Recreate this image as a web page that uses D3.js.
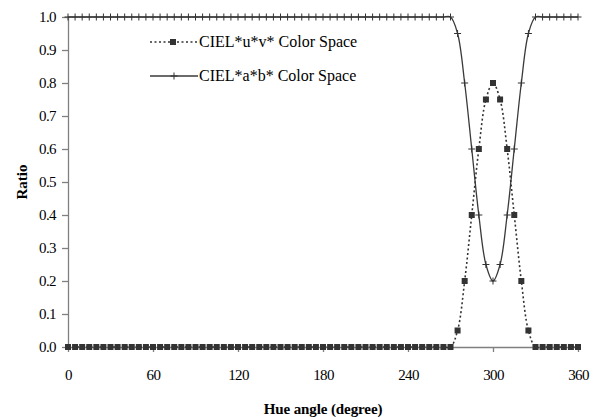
<!DOCTYPE html>
<html>
<head>
<meta charset="utf-8">
<script src="https://cdn.jsdelivr.net/npm/d3@7"></script>
<style>
body { margin: 0; background: #fff; }
svg text { font-family: "Liberation Serif", "Times New Roman", serif; fill: #000; }
.tick text { font-size: 15px; letter-spacing: -0.6px; }
.axis path, .axis line { stroke: #808080; stroke-width: 1.3px; }
</style>
</head>
<body>
<div id="chart"></div>
<script>
// hue angle (degree), one sample every 5 degrees
var hueAngles = [0,5,10,15,20,25,30,35,40,45,50,55,60,65,70,75,80,85,90,95,
	100,105,110,115,120,125,130,135,140,145,150,155,160,165,170,175,180,185,190,195,
	200,205,210,215,220,225,230,235,240,245,250,255,260,265,270,275,280,285,290,295,
	300,305,310,315,320,325,330,335,340,345,350,355,360];

var luvRatio = [0,0,0,0,0,0,0,0,0,0,0,0,0,0,0,0,0,0,0,0,
	0,0,0,0,0,0,0,0,0,0,0,0,0,0,0,0,0,0,0,0,
	0,0,0,0,0,0,0,0,0,0,0,0,0,0,0,0.05,0.2,0.4,0.6,0.75,
	0.8,0.75,0.6,0.4,0.2,0.05,0,0,0,0,0,0,0];

var labRatio = [1,1,1,1,1,1,1,1,1,1,1,1,1,1,1,1,1,1,1,1,
	1,1,1,1,1,1,1,1,1,1,1,1,1,1,1,1,1,1,1,1,
	1,1,1,1,1,1,1,1,1,1,1,1,1,1,1,0.95,0.8,0.6,0.4,0.25,
	0.2,0.25,0.4,0.6,0.8,0.95,1,1,1,1,1,1,1];

var xTicks = [0,60,120,180,240,300,360];
var yTicks = [0,0.1,0.2,0.3,0.4,0.5,0.6,0.7,0.8,0.9,1.0];
var seriesNames = ["CIEL*u*v* Color Space", "CIEL*a*b* Color Space"];

var width = 599, height = 417;
var svg = d3.select("#chart").append("svg")
	.attr("width", width)
	.attr("height", height);

var xScale = d3.scaleLinear().domain([0, 360]).range([68, 578]);
var yScale = d3.scaleLinear().domain([0, 1]).range([347, 17]);

//y axis
svg.append("g")
	.attr("class", "axis")
	.attr("transform", "translate(68,0)")
	.call(d3.axisLeft(yScale).tickValues(yTicks).tickFormat(d3.format(".1f")).tickSize(6).tickSizeOuter(0).tickPadding(6));

//x axis
svg.append("g")
	.attr("class", "axis")
	.attr("transform", "translate(0,347)")
	.call(d3.axisBottom(xScale).tickValues(xTicks).tickSize(5).tickSizeOuter(0).tickPadding(17));

var pts = hueAngles.map(function(h, i) { return {h: h, uv: luvRatio[i], ab: labRatio[i]}; });

// CIELuv - dotted line with squares
var uvLine = d3.line()
	.x(function(d) { return xScale(d.h); })
	.y(function(d) { return yScale(d.uv); })
	.curve(d3.curveCatmullRom);

svg.append("path")
	.datum(pts)
	.attr("d", uvLine)
	.attr("fill", "none")
	.attr("stroke", "#333")
	.attr("stroke-width", 1.6)
	.attr("stroke-dasharray", "2,2.5");

svg.selectAll("rect.uv").data(pts).enter().append("rect")
	.attr("class", "uv")
	.attr("x", function(d) { return xScale(d.h) - 3; })
	.attr("y", function(d) { return yScale(d.uv) - 3; })
	.attr("width", 6)
	.attr("height", 6)
	.attr("fill", "#333");

// CIELab - solid line with plus markers
var abLine = d3.line()
	.x(function(d) { return xScale(d.h); })
	.y(function(d) { return yScale(d.ab); })
	.curve(d3.curveCatmullRom);

svg.append("path")
	.datum(pts)
	.attr("d", abLine)
	.attr("fill", "none")
	.attr("stroke", "#3a3a3a")
	.attr("stroke-width", 1.3);

svg.selectAll("path.ab").data(pts).enter().append("path")
	.attr("class", "ab")
	.attr("d", function(d) {
		var x = xScale(d.h), y = yScale(d.ab);
		return "M" + (x - 3.5) + "," + y + "H" + (x + 3.5) + "M" + x + "," + (y - 3.5) + "V" + (y + 3.5);
	})
	.attr("stroke", "#333")
	.attr("stroke-width", 1);

// legend
var legend = svg.append("g");
legend.append("line")
	.attr("x1", 150).attr("x2", 198).attr("y1", 42).attr("y2", 42)
	.attr("stroke", "#333").attr("stroke-width", 1.6).attr("stroke-dasharray", "2,2.5");
legend.append("rect")
	.attr("x", 170).attr("y", 39).attr("width", 6).attr("height", 6).attr("fill", "#333");
legend.append("text")
	.attr("x", 199).attr("y", 47).attr("font-size", 16)
	.text(seriesNames[0]);

legend.append("line")
	.attr("x1", 150).attr("x2", 198).attr("y1", 76).attr("y2", 76)
	.attr("stroke", "#3a3a3a").attr("stroke-width", 1.3);
legend.append("path")
	.attr("d", "M170.5,76H177.5M174,72.5V79.5")
	.attr("stroke", "#333");
legend.append("text")
	.attr("x", 199).attr("y", 81).attr("font-size", 16)
	.text(seriesNames[1]);

// axis titles
svg.append("text")
	.attr("x", 323).attr("y", 414)
	.attr("text-anchor", "middle")
	.attr("font-size", 15).attr("font-weight", "bold").attr("letter-spacing", -0.1)
	.text("Hue angle (degree)");

svg.append("text")
	.attr("transform", "translate(27,182) rotate(-90)")
	.attr("text-anchor", "middle")
	.attr("font-size", 15).attr("font-weight", "bold")
	.text("Ratio");
</script>
</body>
</html>
